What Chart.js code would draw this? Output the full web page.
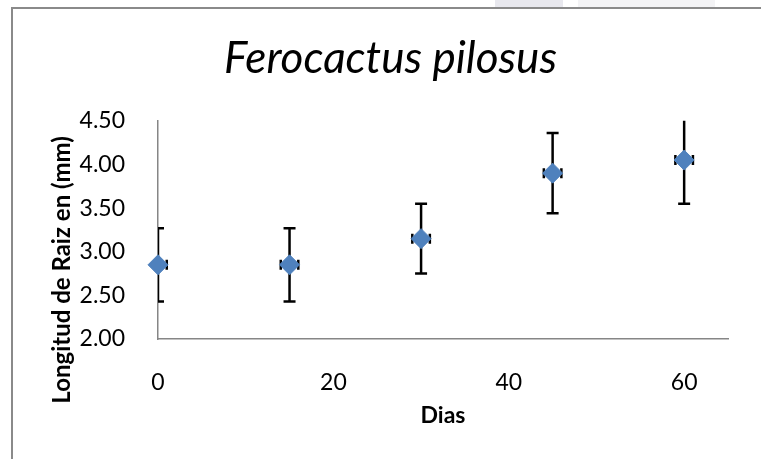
<!DOCTYPE html>
<html><head><meta charset="utf-8">
<script src="https://cdn.jsdelivr.net/npm/chart.js@4.4.1/dist/chart.umd.min.js"></script>
<style>
html,body{margin:0;padding:0;background:#fff;}
#wrap{position:relative;width:761px;height:459px;overflow:hidden;background:#fff;}
.strip{position:absolute;top:0;height:7px;}
#frame{position:absolute;left:11px;top:7px;width:760px;height:460px;border-left:2px solid #8a8a8a;border-top:2px solid #8a8a8a;}
canvas{position:absolute;left:0;top:0;}
</style></head><body>
<div id="wrap">
<div class="strip" style="left:495px;width:68px;background:#e8e8ee"></div>
<div class="strip" style="left:578px;width:137px;background:#f3f3f5"></div>
<div id="frame"></div>
<canvas id="c" width="761" height="459"></canvas>
</div>
<script>
const titleText = 'Ferocactus pilosus';
const xTitle = 'Dias';
const yTitle = 'Longitud de Raiz en (mm)';
const days = [0, 15, 30, 45, 60];
const lengths = [2.85, 2.85, 3.15, 3.90, 4.05];
const yErrors = [0.42, 0.42, 0.40, 0.46, 0.50];
const xErrors = [1, 1, 1, 1, 1];
const xTicks = [0, 20, 40, 60];
const yTicks = [2.00, 2.50, 3.00, 3.50, 4.00, 4.50];

const errorBars = {
  id: 'errorBars',
  beforeDatasetsDraw(chart) {
    const {ctx, chartArea: a, scales: {x, y}} = chart;
    ctx.save();
    ctx.beginPath();
    ctx.rect(a.left, a.top, a.right - a.left, a.bottom - a.top);
    ctx.clip();
    ctx.strokeStyle = '#000';
    ctx.lineWidth = 2.5;
    days.forEach((d, i) => {
      const px = x.getPixelForValue(d), py = y.getPixelForValue(lengths[i]);
      const top = y.getPixelForValue(lengths[i] + yErrors[i]);
      const bot = y.getPixelForValue(lengths[i] - yErrors[i]);
      const lx = x.getPixelForValue(d - xErrors[i]);
      const rx = x.getPixelForValue(d + xErrors[i]);
      ctx.beginPath();
      ctx.moveTo(px, top); ctx.lineTo(px, bot);
      ctx.moveTo(px - 6, top); ctx.lineTo(px + 6, top);
      ctx.moveTo(px - 6, bot); ctx.lineTo(px + 6, bot);
      ctx.moveTo(lx, py); ctx.lineTo(rx, py);
      ctx.moveTo(lx, py - 5); ctx.lineTo(lx, py + 5);
      ctx.moveTo(rx, py - 5); ctx.lineTo(rx, py + 5);
      ctx.stroke();
    });
    ctx.restore();
  }
};

const yTitlePlugin = {
  id: 'yTitlePlugin',
  afterDraw(chart) {
    const {ctx, chartArea: a} = chart;
    ctx.save();
    ctx.font = 'bold 24px Lato';
    ctx.fillStyle = '#000';
    ctx.textAlign = 'center';
    ctx.textBaseline = 'alphabetic';
    ctx.translate(a.left - 88, (a.top + a.bottom) / 2 + 40);
    ctx.rotate(-Math.PI / 2);
    ctx.fillText(yTitle, 0, 0);
    ctx.restore();
  }
};

const tickFont = {family: 'Lato', size: 23};

new Chart(document.getElementById('c'), {
  type: 'scatter',
  data: {
    datasets: [{
      data: days.map((d, i) => ({x: d, y: lengths[i]})),
      pointStyle: 'rectRot',
      pointRadius: 10,
      pointHoverRadius: 10,
      backgroundColor: '#4F81BD',
      borderColor: '#4F81BD',
      borderWidth: 1,
      clip: false
    }]
  },
  options: {
    responsive: false,
    animation: false,
    events: [],
    devicePixelRatio: 1,
    layout: {padding: {left: 53, right: 33, top: 0, bottom: 0}},
    plugins: {
      legend: {display: false},
      tooltip: {enabled: false},
      title: {
        display: true,
        text: titleText,
        color: '#000',
        font: {family: 'Lato', style: 'italic', weight: 'normal', size: 44, lineHeight: 1.2},
        padding: {top: 32, bottom: 36}
      }
    },
    scales: {
      x: {
        type: 'linear', min: 0, max: 65,
        afterBuildTicks: s => { s.ticks = xTicks.map(v => ({value: v})); },
        afterFit: s => { s.height = 120; },
        grid: {display: false},
        border: {display: true, color: '#868686', width: 1.5},
        ticks: {font: tickFont, color: '#000', padding: 22, maxRotation: 0, autoSkip: false},
        title: {display: true, text: xTitle, color: '#000',
          font: {family: 'Lato', weight: 'bold', size: 23, lineHeight: 1.2},
          padding: {top: 0, bottom: 30}}
      },
      y: {
        type: 'linear', min: 2, max: 4.5,
        afterBuildTicks: s => { s.ticks = yTicks.map(v => ({value: v})); },
        afterFit: s => { s.width = 105; },
        grid: {display: false},
        border: {display: true, color: '#868686', width: 1.5},
        ticks: {font: tickFont, color: '#000', padding: 25, callback: v => Number(v).toFixed(2)}
      }
    }
  },
  plugins: [errorBars, yTitlePlugin]
});
</script>
</body></html>
